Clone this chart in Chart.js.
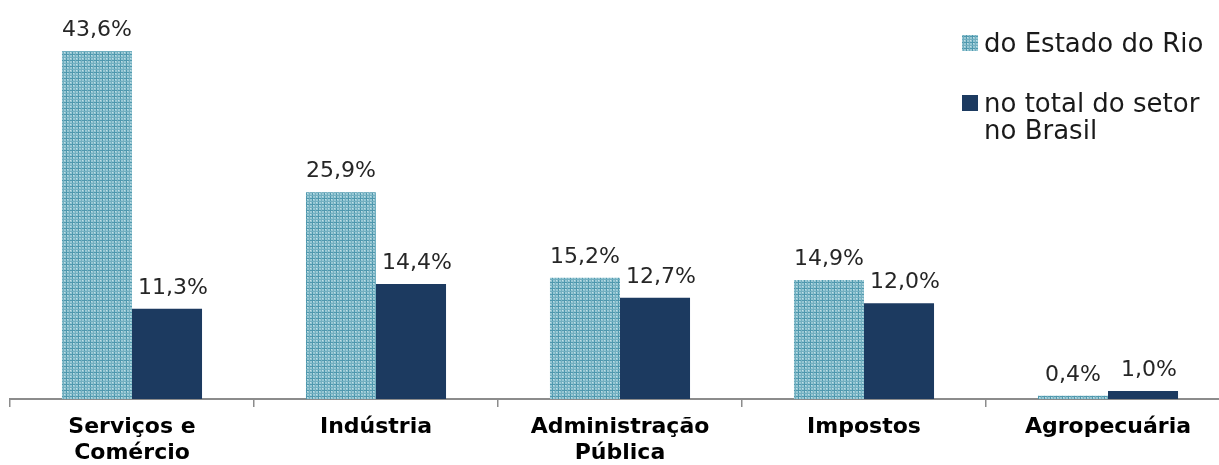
<!DOCTYPE html>
<html>
<head>
<meta charset="utf-8">
<script src="https://cdn.jsdelivr.net/npm/chart.js@4"></script>
<style>
	html, body { margin: 0; padding: 0; background: #fff; overflow: hidden; }
	#wrap { width: 1219px; height: 465px; overflow: hidden; }
</style>
</head>
<body>
<div id="wrap"><canvas id="grafico" width="1232" height="465"></canvas></div>
<script>
// dados do gráfico
const setores = [['Serviços e', 'Comércio'], 'Indústria', ['Administração', 'Pública'], 'Impostos', 'Agropecuária'];
const series = [['do Estado do Rio'], ['no total do setor', 'no Brasil']];
const estadoRio = [43.6, 25.9, 15.2, 14.9, 0.4];
const totalBrasil = [11.3, 14.4, 12.7, 12.0, 1.0];

// padrão quadriculado das barras claras
function criarPadrao() {
	const c = document.createElement('canvas');
	c.width = 6; c.height = 6;
	const g = c.getContext('2d');
	g.fillStyle = '#98c8d4';
	g.fillRect(0, 0, 6, 6);
	g.fillStyle = '#4f98ae';
	g.fillRect(0, 0, 6, 1);
	g.fillRect(0, 0, 1, 6);
	g.fillStyle = '#72afc0';
	g.fillRect(3, 0, 1, 6);
	g.fillRect(0, 3, 6, 1);
	g.fillStyle = '#c4e0e7';
	g.fillRect(1, 1, 1, 1);
	g.fillRect(4, 4, 1, 1);
	return g.createPattern(c, 'repeat');
}

const ctx = document.getElementById('grafico').getContext('2d');
const padrao = criarPadrao();
const azul = '#1c3a60';

// rótulos de valor acima das barras
const rotulosValor = {
	id: 'rotulosValor',
	afterDatasetsDraw(chart) {
		const c = chart.ctx;
		c.save();
		c.font = '22px "DejaVu Sans"';
		c.fillStyle = '#262626';
		c.textAlign = 'center';
		c.textBaseline = 'alphabetic';
		chart.data.datasets.forEach((ds, i) => {
			chart.getDatasetMeta(i).data.forEach((bar, j) => {
				const txt = ds.data[j].toFixed(1).replace('.', ',') + '%';
				c.fillText(txt, bar.x + (i === 1 ? 6 : 0), bar.y - 15);
			});
		});
		c.restore();
	}
};

// legenda à direita
const legenda = {
	id: 'legenda',
	afterDraw(chart) {
		const c = chart.ctx;
		c.save();
		c.font = '26px "DejaVu Sans"';
		c.textBaseline = 'alphabetic';
		const cores = [padrao, azul];
		const topos = [52, 112];
		series.forEach((linhas, i) => {
			c.fillStyle = cores[i];
			c.fillRect(962, topos[i] - 17, 16, 16);
			c.fillStyle = '#1a1a1a';
			linhas.forEach((l, k) => c.fillText(l, 984, topos[i] + k * 27));
		});
		c.restore();
	}
};

new Chart(ctx, {
	type: 'bar',
	data: {
		labels: setores,
		datasets: [
			{ label: series[0].join(' '), data: estadoRio, backgroundColor: padrao, categoryPercentage: 0.574, barPercentage: 1 },
			{ label: series[1].join(' '), data: totalBrasil, backgroundColor: azul, categoryPercentage: 0.574, barPercentage: 1 }
		]
	},
	options: {
		responsive: false,
		animation: false,
		layout: { padding: { left: 10, right: 2, top: 0, bottom: 0 } },
		plugins: {
			legend: { display: false },
			tooltip: { enabled: false }
		},
		scales: {
			x: {
				afterFit(scale) { scale.height = 66; },
				grid: { drawOnChartArea: false, drawTicks: true, tickLength: 8, color: '#8c8c8c', lineWidth: 1.5, offset: true },
				border: { color: '#8c8c8c', width: 2 },
				ticks: {
					color: '#000',
					padding: 7,
					maxRotation: 0,
					autoSkip: false,
					font: { family: '"DejaVu Sans"', size: 22, weight: 'bold', lineHeight: 1.2 }
				}
			},
			y: {
				display: false,
				min: 0,
				max: 50
			}
		}
	},
	plugins: [rotulosValor, legenda]
});
</script>
</body>
</html>
